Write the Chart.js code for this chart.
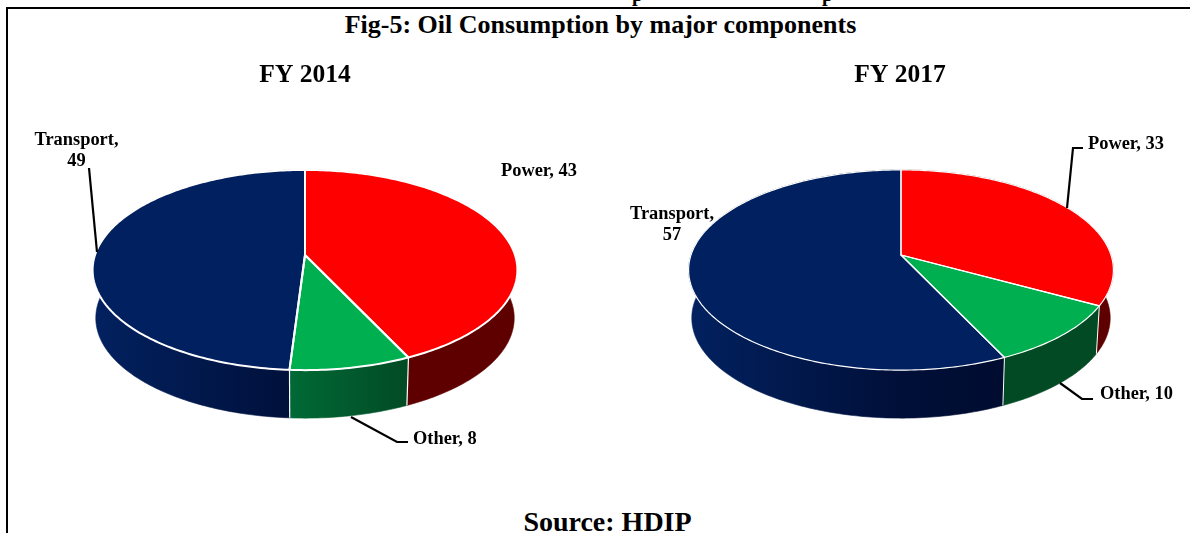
<!DOCTYPE html>
<html>
<head>
<meta charset="utf-8">
<script src="https://cdn.jsdelivr.net/npm/chart.js@4"></script>
<style>
html,body{margin:0;padding:0;background:#fff;width:1190px;height:533px;overflow:hidden}
body{position:relative;font-family:"Liberation Serif",serif;font-weight:bold;color:#000}
#frame{position:absolute;left:6px;top:7px;width:1190px;height:540px;border-left:2px solid #000;border-top:2px solid #000;box-sizing:content-box}
.t{position:absolute;white-space:nowrap;line-height:1}
canvas{position:absolute;top:0}
</style>
</head>
<body>
<div class="t" style="left:632px;top:-16px;font-size:20px">p</div>
<div class="t" style="left:822px;top:-16px;font-size:20px">p</div>
<div id="frame"></div>
<div class="t" id="main" style="left:0;width:1201px;text-align:center;top:12px;font-size:26px">Fig-5: Oil Consumption by major components</div>
<div class="t" id="src" style="left:0;width:1215px;text-align:center;top:508px;font-size:28px">Source: HDIP</div>
<canvas id="c1" style="left:0"></canvas>
<canvas id="c2" style="left:595px"></canvas>
<script>
const categories = ['Power', 'Other', 'Transport'];
const values2014 = [43, 8, 49];
const values2017 = [33, 10, 57];
const topColors = ['#ff0000', '#00b050', '#002060'];
const wallStops = [
  [[0, '#5f0000'], [1, '#5f0000']],
  [[0.46, '#006a36'], [0.75, '#024a24'], [1, '#024a24']],
  [[0, '#02215f'], [0.5, '#000f38'], [1, '#000a28']]
];
const FONT = 'bold 18.4px "Liberation Serif"';

// Oblique view of the pie: maps a pie angle to a point of the top face
function project(arc, theta) {
  const k = 0.15, R = arc.outerRadius, A = R * 0.466;
  const u = Math.sin(theta), v = -Math.cos(theta), d = 1 - k * v;
  return {x: arc.x + R * u / d, y: arc.y + A * v / d};
}
function sample(arc) {
  const a = arc.startAngle + Math.PI / 2, b = arc.endAngle + Math.PI / 2;
  const n = Math.max(4, Math.ceil((b - a) * 60)), pts = [];
  for (let i = 0; i <= n; i++) pts.push(project(arc, a + (b - a) * i / n));
  return pts;
}
const pie3d = {
  id: 'pie3d',
  beforeDatasetsDraw(chart, args, o) {
    const ctx = chart.ctx, arcs = chart.getDatasetMeta(0).data;
    const ds = chart.data.datasets[0];
    const low = p => ({x: arcs[0].x + (p.x - arcs[0].x) * o.inset, y: p.y + o.depth});
    ctx.save();
    // side walls
    arcs.forEach((arc, i) => {
      const pts = sample(arc);
      const g = ctx.createLinearGradient(arc.x - arc.outerRadius, 0, arc.x + arc.outerRadius, 0);
      wallStops[i].forEach(s => g.addColorStop(s[0], s[1]));
      ctx.beginPath();
      pts.forEach((p, j) => j ? ctx.lineTo(p.x, p.y) : ctx.moveTo(p.x, p.y));
      pts.slice().reverse().forEach(p => { const q = low(p); ctx.lineTo(q.x, q.y); });
      ctx.closePath();
      ctx.fillStyle = g;
      ctx.fill();
      ctx.strokeStyle = g;
      ctx.lineWidth = 0.6;
      ctx.stroke();
    });
    // white edges between the visible walls
    ctx.strokeStyle = '#fff';
    ctx.lineWidth = o.wallEdge;
    arcs.forEach(arc => {
      const p = project(arc, arc.endAngle + Math.PI / 2), q = low(p);
      if (p.y > arc.y) { ctx.beginPath(); ctx.moveTo(p.x, p.y); ctx.lineTo(q.x, q.y); ctx.stroke(); }
    });
    // top faces
    arcs.forEach((arc, i) => {
      const pts = sample(arc);
      ctx.beginPath();
      ctx.moveTo(arc.x, arc.y);
      pts.forEach(p => ctx.lineTo(p.x, p.y));
      ctx.closePath();
      ctx.fillStyle = ds.backgroundColor[i];
      ctx.fill();
    });
    // white slice outlines; the rim stays white where it crosses the walls
    ctx.lineWidth = o.edge;
    ctx.lineJoin = 'round';
    arcs.forEach(arc => {
      const pts = sample(arc);
      ctx.beginPath();
      ctx.moveTo(arc.x, arc.y);
      pts.forEach(p => ctx.lineTo(p.x, p.y));
      ctx.closePath();
      ctx.stroke();
    });
    ctx.restore();
    return false;
  },
  afterDraw(chart, args, o) {
    const ctx = chart.ctx, vals = chart.data.datasets[0].data;
    ctx.save();
    ctx.fillStyle = '#000';
    ctx.textBaseline = 'middle';
    ctx.textAlign = 'center';
    ctx.font = 'bold 25.5px "Liberation Serif"';
    ctx.fillText(o.title, o.titleX, 75);
    ctx.font = FONT;
    o.labels.forEach((l, i) => {
      const text = categories[i] + ', ' + vals[i];
      if (l.wrap) {
        ctx.textAlign = 'center';
        ctx.fillText(categories[i] + ',', l.x, l.y);
        ctx.fillText(String(vals[i]), l.x, l.y + 21);
      } else {
        ctx.textAlign = 'left';
        ctx.fillText(text, l.x, l.y);
      }
      if (l.line) {
        ctx.beginPath();
        l.line.forEach((p, j) => j ? ctx.lineTo(p[0], p[1]) : ctx.moveTo(p[0], p[1]));
        ctx.strokeStyle = '#000';
        ctx.lineWidth = 2.2;
        ctx.stroke();
      }
    });
    ctx.restore();
  }
};
function makePie(id, values, padLeft, opts) {
  const el = document.getElementById(id);
  el.width = 595; el.height = 533;
  return new Chart(el, {
    type: 'pie',
    plugins: [pie3d],
    data: {labels: categories, datasets: [{data: values, backgroundColor: topColors, radius: 210, borderWidth: 0}]},
    options: {
      responsive: false, animation: false,
      layout: {padding: {left: padLeft, bottom: 23}},
      events: [],
      plugins: {legend: {display: false}, tooltip: {enabled: false}, pie3d: opts}
    }
  });
}
makePie('c1', values2014, 15, {
  title: 'FY 2014', titleX: 305, depth: 48, inset: 0.985, edge: 2, wallEdge: 1.2,
  labels: [
    {x: 501, y: 171},
    {x: 413, y: 439, line: [[351, 417], [397, 442], [408, 442]]},
    {wrap: true, x: 76.5, y: 140, line: [[89, 168], [97, 252]]}
  ]
});
makePie('c2', values2017, 17, {
  title: 'FY 2017', titleX: 305, depth: 48, inset: 0.985, edge: 1.2, wallEdge: 1,
  labels: [
    {x: 493, y: 144, line: [[472, 208], [478, 148], [488, 148]]},
    {x: 505, y: 394, line: [[465, 383], [487, 399], [498, 399]]},
    {wrap: true, x: 77, y: 214}
  ]
});
</script>
</body>
</html>
